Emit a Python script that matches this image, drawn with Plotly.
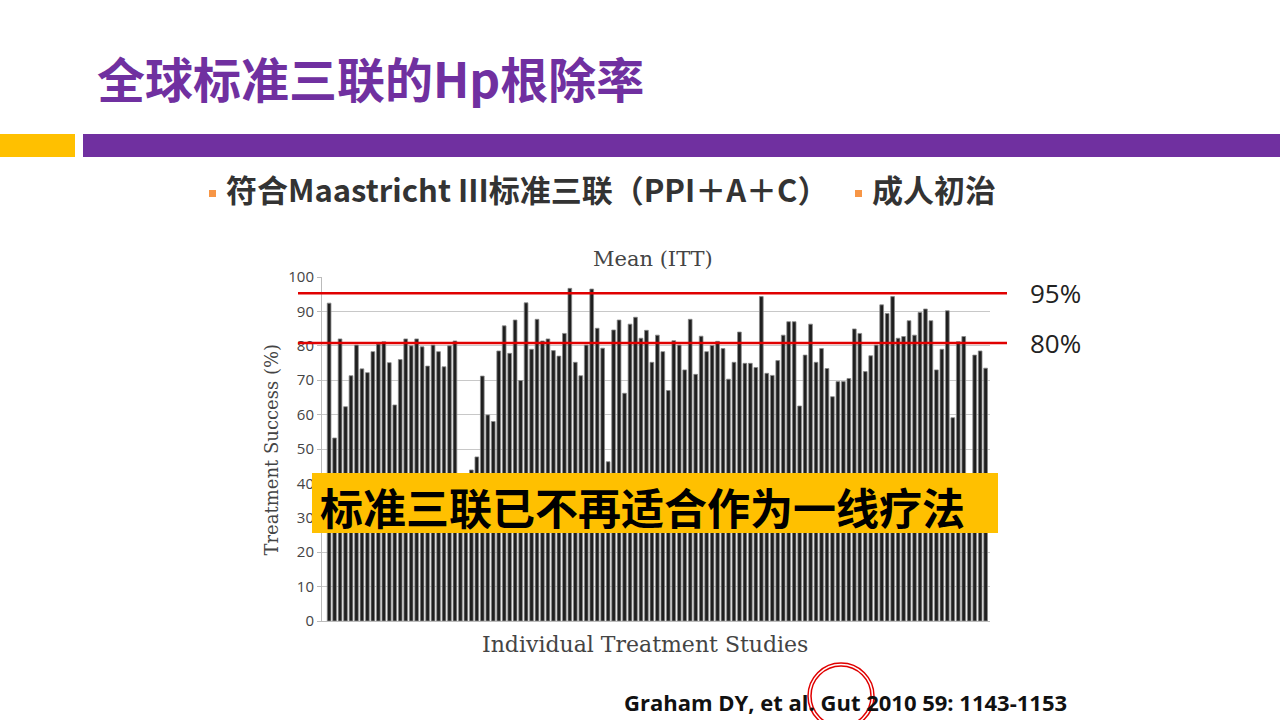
import plotly.graph_objects as go

# treatment success (%) per study; values near 30-40 sit under the banner
studies = list(range(121))
success = [
    92.4, 53.2, 82.0, 62.3, 71.3, 80.2, 73.3, 72.2, 78.3, 80.5,
    81.2, 75.1, 62.8, 76.0, 82.0, 80.0, 82.0, 79.7, 74.1, 80.2,
    78.3, 73.9, 80.0, 81.4, 36.0, 38.0, 43.9, 47.7, 71.2, 59.9,
    58.0, 78.5, 85.8, 77.8, 87.5, 69.9, 92.5, 79.0, 87.7, 81.4,
    82.0, 78.6, 77.0, 83.6, 96.7, 75.2, 71.3, 80.2, 96.5, 85.1,
    79.3, 46.3, 84.6, 87.5, 66.2, 86.3, 88.3, 82.2, 84.5, 75.2,
    83.1, 78.3, 67.0, 81.5, 80.2, 73.0, 87.7, 71.7, 82.8, 78.3,
    80.1, 81.3, 79.2, 70.3, 75.2, 84.0, 74.9, 74.9, 73.7, 94.3,
    72.0, 71.4, 75.7, 83.1, 87.0, 87.0, 62.5, 77.3, 86.3, 75.2,
    79.2, 73.4, 65.2, 69.6, 69.6, 70.5, 84.9, 83.6, 72.5, 77.1,
    80.2, 91.9, 89.4, 94.3, 82.2, 82.7, 87.3, 83.1, 89.7, 90.7,
    87.3, 73.0, 79.0, 90.2, 59.1, 81.2, 82.7, 32.0, 77.3, 78.5,
    73.5,
]
y_ticks = [0, 10, 20, 30, 40, 50, 60, 70, 80, 90, 100]
thresholds = [95.3, 80.8]
threshold_labels = ["95%", "80%"]

W, H = 1280, 720


def px(x):
    return x / W


def py(y):
    return 1 - y / H


fig = go.Figure(go.Bar(
    x=studies, y=success,
    marker=dict(color="#1f1f1f", line=dict(color="#8a8a8a", width=0.8)),
    showlegend=False, hoverinfo="y",
))

fig.update_layout(
    width=W, height=H,
    margin=dict(l=0, r=0, t=0, b=0, pad=0, autoexpand=False),
    paper_bgcolor="white", plot_bgcolor="white",
    bargap=0.32,
    xaxis=dict(domain=[px(322), px(990)], range=[-1.3, 120.8],
               showticklabels=False, showgrid=False, zeroline=False,
               showline=True, linecolor="#bbbbbb", linewidth=1),
    yaxis=dict(domain=[py(621), py(277)], range=[0, 100],
               tickvals=y_ticks, showgrid=True, gridcolor="#c8c8c8", gridwidth=1,
               zeroline=False, showline=True, linecolor="#bbbbbb",
               ticks="outside", ticklen=4, tickcolor="#bbbbbb",
               tickfont=dict(family="Open Sans", size=15, color="#444444")),
)

shapes = []
# header bars
shapes.append(dict(type="rect", xref="paper", yref="paper",
                   x0=px(0), x1=px(75), y0=py(157), y1=py(134),
                   fillcolor="#FFC000", line_width=0))
shapes.append(dict(type="rect", xref="paper", yref="paper",
                   x0=px(83), x1=px(1280), y0=py(157), y1=py(134),
                   fillcolor="#7030A0", line_width=0))
# bullets
for bx in [209, 855]:
    shapes.append(dict(type="rect", xref="paper", yref="paper",
                       x0=px(bx), x1=px(bx + 7), y0=py(197), y1=py(190),
                       fillcolor="#F79646", line_width=0))
# threshold lines
for t in thresholds:
    shapes.append(dict(type="line", xref="paper", yref="y",
                       x0=px(298), x1=px(1007), y0=t, y1=t,
                       line=dict(color="#E00000", width=2.5)))
# yellow banner
shapes.append(dict(type="rect", xref="paper", yref="paper",
                   x0=px(312), x1=px(998), y0=py(533), y1=py(473),
                   fillcolor="#FFC000", line_width=0))
# red circle around the journal name
for r in [33, 30]:
    shapes.append(dict(type="circle", xref="paper", yref="paper",
                       x0=px(841 - r), x1=px(841 + r), y0=py(696 + r), y1=py(696 - r),
                       line=dict(color="#E00000", width=1.5)))
fig.update_layout(shapes=shapes)

cjk = "Noto Sans CJK SC"
serif = "DejaVu Serif"
ann = [
    dict(text="<b>全球标准三联的Hp根除率</b>", x=px(95), y=py(77), xanchor="left",
         font=dict(family=cjk, size=48, color="#7030A0")),
    dict(text="<b>符合Maastricht III标准三联（PPI＋A＋C）</b>", x=px(224), y=py(189), xanchor="left",
         font=dict(family=cjk, size=31, color="#333333")),
    dict(text="<b>成人初治</b>", x=px(870), y=py(189), xanchor="left",
         font=dict(family=cjk, size=31, color="#333333")),
    dict(text="Mean (ITT)", x=px(653), y=py(259),
         font=dict(family=serif, size=21, color="#444444")),
    dict(text="Individual Treatment Studies", x=px(645), y=py(644),
         font=dict(family=serif, size=22, color="#444444")),
    dict(text="Treatment Success (%)", x=px(258), y=py(450), textangle=-90,
         font=dict(family=serif, size=18, color="#444444")),
    dict(text="<b>标准三联已不再适合作为一线疗法</b>", x=px(318), y=py(506), xanchor="left",
         font=dict(family=cjk, size=43, color="#000000")),
    dict(text="<b>Graham DY, et al. Gut 2010 59: 1143-1153</b>", x=px(622), y=py(702), xanchor="left",
         font=dict(family="Open Sans", size=22, color="#111111")),
]
for t, lab in zip(thresholds, threshold_labels):
    ann.append(dict(text=lab, x=px(1028), y=t, yref="y", xanchor="left",
                    font=dict(family="Open Sans", size=26, color="#222222")))
for a in ann:
    a.setdefault("xref", "paper")
    a.setdefault("yref", "paper")
    a["yanchor"] = "middle"
    a["showarrow"] = False
fig.update_layout(annotations=ann)

pin = """
document.body.style.margin='0';
document.body.style.overflow='hidden';
var gd = document.getElementById('{plot_id}');
gd.style.position='fixed'; gd.style.top='0px'; gd.style.left='0px';
"""
fig.write_html("out.html", config={"displayModeBar": False}, post_script=pin)
